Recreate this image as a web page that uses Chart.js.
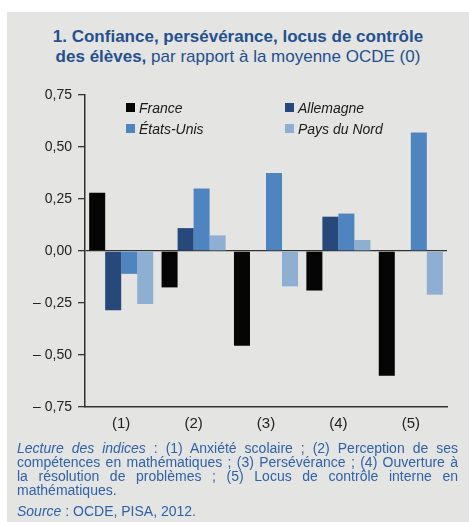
<!DOCTYPE html>
<html><head><meta charset="utf-8">
<script src="https://cdn.jsdelivr.net/npm/chart.js@4/dist/chart.umd.min.js"></script>
<style>
html,body{margin:0;padding:0;width:469px;height:522px;background:#fff;overflow:hidden;}
#panel{position:absolute;left:7px;top:12px;width:462px;height:510px;background:#e4e4e3;}
#wrap{position:absolute;left:0;top:0;width:469px;height:522px;}
#title{position:absolute;left:7px;top:27px;width:462px;text-align:center;font-family:"Liberation Sans",Arial,sans-serif;font-size:17px;line-height:20px;color:#23508f;}
#title b{font-weight:bold;}
#foot{position:absolute;left:17px;top:441px;width:441px;font-family:"Liberation Sans",Arial,sans-serif;font-size:14px;line-height:14px;color:#2f62a8;text-align:justify;}
#src{position:absolute;left:17px;top:504px;font-family:"Liberation Sans",Arial,sans-serif;font-size:14px;line-height:14px;color:#2f62a8;}
</style></head>
<body>
<div id="panel"></div>
<div id="title"><b>1. Confiance, persévérance, locus de contrôle<br>des élèves,</b> par rapport à la moyenne OCDE (0)</div>
<div id="wrap"><canvas id="c" width="469" height="522"></canvas></div>
<div id="foot"><i>Lecture des indices</i> : (1) Anxiété scolaire ; (2) Perception de ses compétences en mathématiques ; (3) Persévérance ; (4) Ouverture à la résolution de problèmes ; (5) Locus de contrôle interne en mathématiques.</div>
<div id="src"><i>Source</i> : OCDE, PISA, 2012.</div>
<script>
const categories = ["(1)", "(2)", "(3)", "(4)", "(5)"];
const seriesNames = ["France", "Allemagne", "États-Unis", "Pays du Nord"];
const france = [0.28, -0.175, -0.455, -0.19, -0.60];
const allemagne = [-0.285, 0.11, 0.0, 0.165, 0.0];
const etatsUnis = [-0.11, 0.30, 0.375, 0.18, 0.57];
const paysDuNord = [-0.255, 0.075, -0.17, 0.053, -0.21];
const yTickValues = [0.75, 0.5, 0.25, 0, -0.25, -0.5, -0.75];
const yTickLabels = ["0,75", "0,50", "0,25", "0,00", "– 0,25", "– 0,50", "– 0,75"];
const colors = ["#050505", "#27487a", "#4e85c1", "#8eaed2"];

const legendPlugin = {
  id: 'gridLegend',
  afterDraw(chart) {
    const ctx = chart.ctx;
    const pos = [[126, 103], [285, 103], [126, 124], [285, 124]];
    ctx.save();
    ctx.font = 'italic 14px "Liberation Sans", Arial, sans-serif';
    ctx.textBaseline = 'alphabetic';
    chart.data.datasets.forEach((ds, i) => {
      const [x, y] = pos[i];
      ctx.fillStyle = ds.backgroundColor;
      ctx.fillRect(x, y, 9, 9);
      ctx.fillStyle = '#1a1a1a';
      ctx.fillText(ds.label, x + 13, y + 9.5);
    });
    ctx.restore();
  }
};

const values = [france, allemagne, etatsUnis, paysDuNord];
new Chart(document.getElementById('c'), {
  type: 'bar',
  data: {
    labels: categories,
    datasets: seriesNames.map((n, i) => ({
      label: n, data: values[i], backgroundColor: colors[i],
      borderWidth: 0, barPercentage: 1, categoryPercentage: 0.885
    }))
  },
  options: {
    responsive: false, animation: false,
    layout: { padding: { left: 0, right: 22, top: 95, bottom: 85 } },
    plugins: { legend: { display: false }, tooltip: { enabled: false }, title: { display: false } },
    scales: {
      x: {
        grid: { display: false, drawTicks: false },
        border: { display: true, color: '#333', width: 1.5 },
        ticks: { color: '#222', font: { family: '"Liberation Sans", Arial, sans-serif', size: 15 }, padding: 8 },
        afterFit(s) { s.height = 30; }
      },
      y: {
        min: -0.75, max: 0.75,
        afterBuildTicks(s) { s.ticks = yTickValues.map(v => ({ value: v })); },
        grid: {
          drawOnChartArea: true, drawTicks: true, tickLength: 7,
          color: c => (c.tick && c.tick.value === 0) ? '#333' : 'rgba(0,0,0,0)',
          tickColor: '#333', lineWidth: 1.3, tickWidth: 1.3
        },
        border: { display: true, color: '#333', width: 1.5 },
        ticks: {
          color: '#222', padding: 6,
          font: { family: '"Liberation Sans", Arial, sans-serif', size: 14 },
          callback: v => { const i = yTickValues.indexOf(v); return i >= 0 ? yTickLabels[i] : ''; }
        },
        afterFit(s) { s.width = 85; }
      }
    }
  },
  plugins: [legendPlugin]
});
</script>
</body></html>
